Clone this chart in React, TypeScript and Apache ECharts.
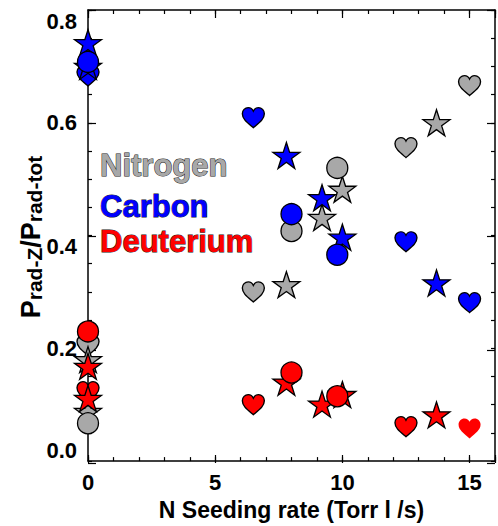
import React, { useEffect, useRef } from 'react';
import * as echarts from 'echarts';

// ---- data (x = N seeding rate, y = P_rad-Z / P_rad-tot) ----
const nitrogenHearts: [number, number][] = [[0, 0.205], [6.5, 0.300], [12.5, 0.556], [15, 0.666]];
const nitrogenStars: [number, number][] = [[0, 0.180], [0, 0.088], [7.8, 0.313], [9.2, 0.432], [10.0, 0.482], [13.7, 0.600]];
const nitrogenCircles: [number, number][] = [[0, 0.067], [8.0, 0.408], [9.8, 0.520]];

const carbonHearts: [number, number][] = [[0, 0.683], [6.5, 0.609], [12.5, 0.389], [15, 0.281]];
const carbonStars: [number, number][] = [[0, 0.742], [0, 0.700], [7.8, 0.542], [9.2, 0.467], [10.0, 0.397], [13.7, 0.316]];
const carbonCircles: [number, number][] = [[0, 0.708], [8.0, 0.438], [9.8, 0.366]];

const deuteriumHearts: [number, number][] = [[0, 0.123], [6.5, 0.100], [12.5, 0.061]];
const deuteriumHeartsNoEdge: [number, number][] = [[15, 0.058]];
const deuteriumStars: [number, number][] = [[0, 0.168], [0, 0.111], [7.8, 0.140], [9.2, 0.101], [10.0, 0.118], [13.7, 0.082]];
const deuteriumCircles: [number, number][] = [[0, 0.230], [8.0, 0.157], [9.8, 0.115]];

const legendNames = ['Nitrogen', 'Carbon', 'Deuterium'];
const xTickLabels = [0, 5, 10, 15];
const yTickLabels = [0, 0.2, 0.4, 0.6, 0.8];

const GRAY = '#a8a8a8';
const BLUE = '#0000ff';
const RED = '#ff0000';
const FONT = '"Liberation Sans", Arial, Helvetica, sans-serif';

const STAR = 'path://M50,0L61.23,34.55L97.55,34.55L68.17,55.9L79.39,90.45L50,69.1L20.61,90.45L31.83,55.9L2.45,34.55L38.77,34.55Z';
const HEART = 'path://M50,92C22,68 0,52 0,28C0,12 12,0 27,0C38,0 46,7 50,16C54,7 62,0 73,0C88,0 100,12 100,28C100,52 78,68 50,92Z';

function scatter(name: string, data: [number, number][], kind: 'heart' | 'star' | 'circle', color: string, edge = true) {
  const symbol = kind === 'heart' ? HEART : kind === 'star' ? STAR : 'circle';
  const size = kind === 'heart' ? [22, 20] : kind === 'star' ? [27, 26] : 21;
  return {
    name,
    type: 'scatter',
    xAxisIndex: 0,
    yAxisIndex: 0,
    data,
    symbol,
    symbolSize: size,
    clip: false,
    silent: true,
    itemStyle: { color, borderColor: '#000', borderWidth: edge ? 1.3 : 0, opacity: 1 },
  };
}

export default function App() {
  const ref = useRef<HTMLDivElement>(null);
  useEffect(() => {
    if (!ref.current) return;
    const chart = echarts.init(ref.current, null, { renderer: 'svg' });
    const gridRect = { left: 88, right: 3, top: 10, bottom: 63 };
    const lineStyle = { color: '#000', width: 1.5 };
    const tickStyle = { color: '#000', width: 1.2 };
    const isX = (v: number) => xTickLabels.some((t) => Math.abs(t - v) < 1e-6);
    const isY = (v: number) => yTickLabels.some((t) => Math.abs(t - v) < 1e-6);
    const xBase = (extra: any) => ({
      type: 'value', min: 0, max: 16, splitLine: { show: false },
      axisLine: { show: true, onZero: false, lineStyle },
      ...extra,
    });
    const yBase = (extra: any) => ({
      type: 'value', min: 0, max: 0.8, splitLine: { show: false },
      axisLine: { show: true, onZero: false, lineStyle },
      ...extra,
    });
    chart.setOption({
      animation: false,
      backgroundColor: '#fff',
      grid: [{ ...gridRect }, { ...gridRect }],
      xAxis: [
        xBase({
          gridIndex: 0, position: 'bottom', interval: 1,
          axisTick: { show: true, inside: true, length: 4, lineStyle: tickStyle },
          axisLabel: {
            show: true, interval: 0, margin: 10, color: '#000', fontSize: 22, fontWeight: 'bold', fontFamily: FONT,
            formatter: (v: number) => (isX(v) ? String(Math.round(v)) : ''),
          },
          name: 'N Seeding rate (Torr l /s)', nameLocation: 'middle', nameGap: 35,
          nameTextStyle: { color: '#000', fontSize: 23, fontWeight: 'bold', fontFamily: FONT },
        }),
        xBase({
          gridIndex: 0, position: 'top', interval: 1,
          axisTick: { show: true, inside: true, length: 4, lineStyle: tickStyle },
          axisLabel: { show: false },
        }),
        xBase({
          gridIndex: 1, position: 'bottom', interval: 5,
          axisLine: { show: false, onZero: false },
          axisTick: { show: true, inside: true, length: 8, lineStyle: tickStyle },
          axisLabel: { show: false },
        }),
        xBase({
          gridIndex: 1, position: 'top', interval: 5,
          axisLine: { show: false, onZero: false },
          axisTick: { show: true, inside: true, length: 8, lineStyle: tickStyle },
          axisLabel: { show: false },
        }),
      ],
      yAxis: [
        yBase({
          gridIndex: 0, position: 'left', interval: 0.05,
          axisTick: { show: true, inside: true, length: 4, lineStyle: tickStyle },
          axisLabel: {
            show: true, interval: 0, margin: 11, color: '#000', fontSize: 22, fontWeight: 'bold', fontFamily: FONT,
            verticalAlignMinLabel: 'bottom', verticalAlignMaxLabel: 'top',
            formatter: (v: number) => {
              if (!isY(v)) return '';
              const s = v.toFixed(1);
              return s === '0.4' ? `{low|${s}}` : s;
            },
            rich: {
              low: { fontSize: 22, fontWeight: 'bold', fontFamily: FONT, color: '#000', padding: [22, 0, 0, 0] },
            },
          },
        }),
        yBase({
          gridIndex: 0, position: 'right', interval: 0.05,
          axisTick: { show: true, inside: true, length: 4, lineStyle: tickStyle },
          axisLabel: { show: false },
        }),
        yBase({
          gridIndex: 1, position: 'left', interval: 0.2,
          axisLine: { show: false, onZero: false },
          axisTick: { show: true, inside: true, length: 8, lineStyle: tickStyle },
          axisLabel: { show: false },
        }),
        yBase({
          gridIndex: 1, position: 'right', interval: 0.2,
          axisLine: { show: false, onZero: false },
          axisTick: { show: true, inside: true, length: 8, lineStyle: tickStyle },
          axisLabel: { show: false },
        }),
      ],
      series: [
        scatter('Nitrogen heart', nitrogenHearts, 'heart', GRAY),
        scatter('Nitrogen star', nitrogenStars, 'star', GRAY),
        scatter('Nitrogen circle', nitrogenCircles, 'circle', GRAY),
        scatter('Carbon heart', carbonHearts, 'heart', BLUE),
        scatter('Carbon star', carbonStars, 'star', BLUE),
        scatter('Carbon circle', carbonCircles, 'circle', BLUE),
        scatter('Deuterium heart', deuteriumHearts, 'heart', RED),
        scatter('Deuterium heart plain', deuteriumHeartsNoEdge, 'heart', RED, false),
        scatter('Deuterium star', deuteriumStars, 'star', RED),
        scatter('Deuterium circle', deuteriumCircles, 'circle', RED),
      ],
      graphic: [
        ...legendNames.map((name, i) => ({
          type: 'text',
          x: 100,
          y: [165, 206, 241][i],
          silent: true,
          style: {
            text: name,
            fill: [GRAY, BLUE, RED][i],
            stroke: '#222',
            lineWidth: 1,
            font: `bold 31px ${FONT}`,
            textVerticalAlign: 'middle',
          },
        })),
        {
          type: 'text',
          x: 31,
          y: 237,
          rotation: Math.PI / 2,
          silent: true,
          style: {
            text: '{m|P}{s|rad-Z}{m|/P}{s|rad-tot}',
            align: 'center',
            verticalAlign: 'middle',
            rich: {
              m: { fontSize: 27, fontWeight: 'bold', fontFamily: FONT, fill: '#000', lineHeight: 28, verticalAlign: 'top' },
              s: { fontSize: 21, fontWeight: 'bold', fontFamily: FONT, fill: '#000', lineHeight: 22, verticalAlign: 'bottom', padding: [16, 0, 0, 0] },
            },
          },
        },
      ],
    });
    return () => chart.dispose();
  }, []);
  return <div ref={ref} style={{ position: 'fixed', left: 0, top: 0, width: 498, height: 526 }} />;
}
